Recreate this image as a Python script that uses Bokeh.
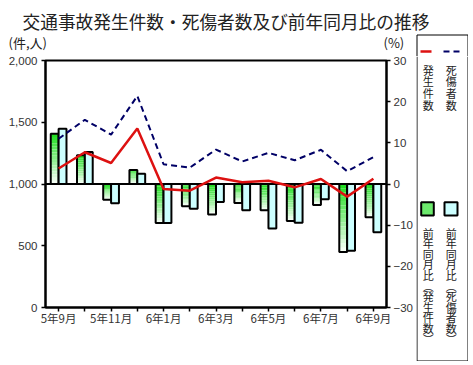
from bokeh.plotting import figure
from bokeh.models import Range1d, LinearAxis, FixedTicker, NumeralTickFormatter, Span
from bokeh.layouts import column, row
from bokeh.embed import file_html
from bokeh.resources import INLINE
from bokeh.core.properties import value

# ---------------- data ----------------
title_text = "交通事故発生件数・死傷者数及び前年同月比の推移"
months = ["5年9月", "5年10月", "5年11月", "5年12月", "6年1月", "6年2月", "6年3月",
          "6年4月", "6年5月", "6年6月", "6年7月", "6年8月", "6年9月"]
accidents = [1125, 1257, 1170, 1450, 960, 946, 1052, 1014, 1027, 973, 1041, 898, 1043]
casualties = [1366, 1520, 1400, 1713, 1160, 1132, 1279, 1182, 1252, 1192, 1277, 1103, 1217]
acc_yoy = [12.2, 7.0, -3.8, 3.4, -9.5, -5.4, -7.4, -4.6, -6.4, -9.0, -5.1, -16.5, -8.1]
cas_yoy = [13.4, 7.8, -4.7, 2.5, -9.5, -6.0, -4.4, -6.4, -10.8, -9.4, -3.7, -16.2, -11.7]
left_ticks = [0, 500, 1000, 1500, 2000]
right_ticks = [-30, -20, -10, 0, 10, 20, 30]
left_unit = "(件,人)"
right_unit = "(%)"
legend_lines = ["発生件数", "死傷者数"]
legend_bars = ["前年同月比︵発生件数︶", "前年同月比︵死傷者数︶"]

FONT = "Noto Sans CJK JP"
TXT = "#222222"
GREEN_TOP = (0x22, 0xDD, 0x22)
GREEN_BOT = (0xF4, 0xFF, 0xF4)
CYAN = "#ccffff"
RED = "#dd1111"
NAVY = "#000066"

# legend box geometry (page pixels)
BOX_L, BOX_R, BOX_T, BOX_B = 416.5, 467.5, 34.5, 360.5
TOP_H = 56          # height of the header strip
COL_X = [427.7, 450.7]


def mix(c1, c2, t):
    return "#%02x%02x%02x" % tuple(int(round(a + (b - a) * t)) for a, b in zip(c1, c2))


def strip(x0, x1, y0, y1):
    f = figure(width=int(x1 - x0), height=int(y1 - y0), x_range=Range1d(x0, x1),
               y_range=Range1d(y1, y0), x_axis_location=None, y_axis_location=None,
               toolbar_location=None, output_backend="svg", min_border=0)
    f.outline_line_color = None
    f.grid.visible = False
    f.background_fill_color = "white"
    f.border_fill_color = "white"
    return f

# ---------------- header strip (page y 0..56) ----------------
tf = strip(0, 468, 0, TOP_H)
tf.text(x=[22], y=[20], text=[title_text], text_font=value(FONT), text_font_size="17.7px",
        text_color=TXT, text_baseline="middle", text_align="left")
tf.text(x=[8, 383], y=[42, 42], text=[left_unit, right_unit], text_font=value(FONT),
        text_font_size="13px", text_color=TXT, text_baseline="middle", text_align="left")
tf.multi_line(xs=[[BOX_L, BOX_L, BOX_R, BOX_R]], ys=[[TOP_H, BOX_T, BOX_T, TOP_H]],
              line_color="black", line_width=1)
tf.line([420, 431], [51, 51], line_color=RED, line_width=2.5)
tf.line([443, 460], [51, 51], line_color=NAVY, line_width=2, line_dash="6 4")

# ---------------- main chart (page y 56..365) ----------------
n = len(months)
xs = list(range(n))
p = figure(width=416, height=309, min_border_left=45, min_border_right=29,
           min_border_top=4, min_border_bottom=58,
           x_range=Range1d(-0.5, n - 0.5), y_range=Range1d(0, 2000),
           toolbar_location=None, output_backend="svg")
p.extra_y_ranges = {"pct": Range1d(-30, 30)}
p.grid.visible = False
p.outline_line_color = "black"
p.outline_line_width = 2
p.background_fill_color = "white"
p.border_fill_color = "white"

p.xaxis.ticker = FixedTicker(ticks=xs)
p.xaxis.major_label_overrides = {i: (months[i] if i % 2 == 0 else "") for i in xs}
p.xaxis.major_label_text_font = FONT
p.xaxis.major_label_text_font_size = "11.5px"
p.xaxis.major_label_text_color = "#333333"
p.xaxis.major_label_standoff = -2

p.yaxis.ticker = FixedTicker(ticks=left_ticks)
p.yaxis.formatter = NumeralTickFormatter(format="0,0")
p.yaxis.major_label_text_font = "Liberation Sans"
p.yaxis.major_label_text_font_size = "11.5px"
p.yaxis.major_label_text_color = "#333333"
p.yaxis.major_label_standoff = 4

ra = LinearAxis(y_range_name="pct", ticker=FixedTicker(ticks=right_ticks))
ra.major_label_text_font = "Liberation Sans"
ra.major_label_text_font_size = "11.5px"
ra.major_label_text_color = "#333333"
ra.major_label_standoff = 3
p.add_layout(ra, "right")

for ax in [p.xaxis[0], p.yaxis[0], ra]:
    ax.axis_line_width = 2
    ax.major_tick_in = 0
    ax.major_tick_out = 4
    ax.major_tick_line_width = 1.5
    ax.minor_tick_line_color = None

p.add_layout(Span(location=1000, dimension="width", line_color="black", line_width=2, level="underlay"))

# gradient green bars (slices), then outlines
N = 16
bw = 0.3
gl, gr, gt, gb, gc = [], [], [], [], []
for i, v in enumerate(acc_yoy):
    hi, lo = max(v, 0), min(v, 0)
    for k in range(N):
        gl.append(i - bw)
        gr.append(i)
        gt.append(hi - (hi - lo) * k / N)
        gb.append(hi - (hi - lo) * (k + 1) / N)
        gc.append(mix(GREEN_TOP, GREEN_BOT, k / (N - 1)))
p.quad(left=gl, right=gr, top=gt, bottom=gb, fill_color=gc, line_color=None, y_range_name="pct")
p.quad(left=[i - bw for i in xs], right=xs, top=[max(v, 0) for v in acc_yoy],
       bottom=[min(v, 0) for v in acc_yoy], fill_color=None, line_color="black",
       line_width=2, y_range_name="pct")
p.quad(left=xs, right=[i + bw for i in xs], top=[max(v, 0) for v in cas_yoy],
       bottom=[min(v, 0) for v in cas_yoy], fill_color=CYAN, line_color="black",
       line_width=2, y_range_name="pct")

p.line(xs, casualties, line_color=NAVY, line_width=2, line_dash="6 4")
p.line(xs, accidents, line_color=RED, line_width=2.5)

# ---------------- legend lower part (page x 416..468, y 56..361) ----------------
lg = strip(416, 468, TOP_H, 361)
lg.multi_line(xs=[[BOX_L, BOX_L, BOX_R, BOX_R]], ys=[[TOP_H, BOX_B, BOX_B, TOP_H]],
              line_color="black", line_width=1)
lg.quad(left=[420.7], right=[433.3], top=[201.7], bottom=[215],
        fill_color=mix(GREEN_TOP, GREEN_BOT, 0.35), line_color="black", line_width=2)
lg.quad(left=[444], right=[457], top=[201.7], bottom=[215], fill_color=CYAN,
        line_color="black", line_width=2)

cx, cy, ch = [], [], []
for j, s in enumerate(legend_lines):
    for k, c in enumerate(s):
        cx.append(COL_X[j]); cy.append(69.2 + 11.7 * k); ch.append(c)
for j, s in enumerate(legend_bars):
    for k, c in enumerate(s):
        cx.append(COL_X[j]); cy.append(232.0 + 10.6 * k); ch.append(c)
lg.text(x=cx, y=cy, text=ch, text_font=value(FONT), text_font_size="11px", text_color=TXT,
        text_align="center", text_baseline="middle")

layout = column(tf, row(column(p), column(lg)))
open("out.html", "w").write(file_html(layout, INLINE))
